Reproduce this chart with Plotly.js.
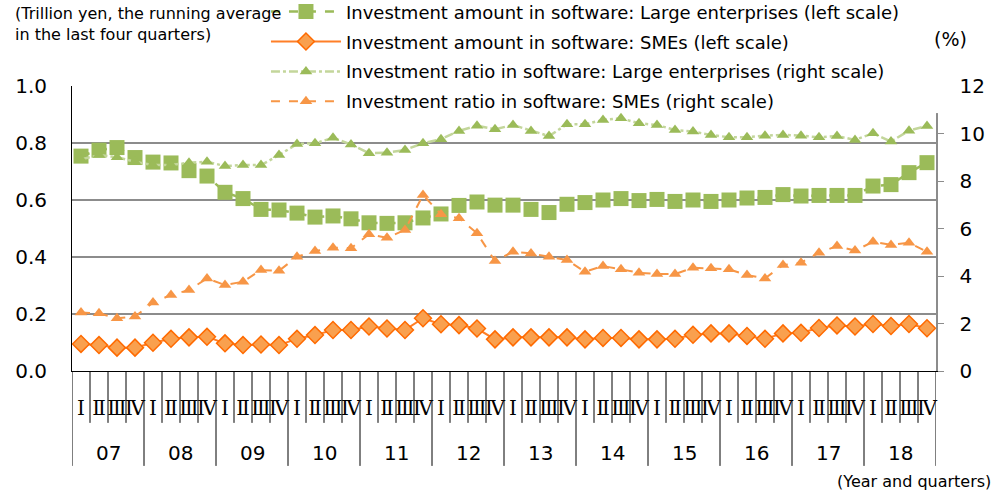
<!DOCTYPE html>
<html>
<head>
<meta charset="utf-8">
<script src="https://cdn.plot.ly/plotly-3.0.1.min.js"></script>
<style>html,body{margin:0;padding:0;background:#fff;}#chart{width:997px;height:492px;}</style>
</head>
<body>
<div id="chart"></div>
<script>
var years = ["07","08","09","10","11","12","13","14","15","16","17","18"];
var quarters = ["Ⅰ","Ⅱ","Ⅲ","Ⅳ"];

var largeAmount = [0.754,0.775,0.784,0.749,0.733,0.730,0.703,0.684,0.627,0.605,0.567,0.565,
  0.554,0.540,0.544,0.534,0.520,0.518,0.520,0.537,0.551,0.581,0.593,0.582,
  0.582,0.567,0.556,0.585,0.591,0.600,0.605,0.598,0.602,0.595,0.600,0.595,
  0.600,0.607,0.609,0.619,0.614,0.616,0.616,0.616,0.649,0.654,0.696,0.731];
var smeAmount = [0.095,0.091,0.082,0.082,0.099,0.113,0.118,0.120,0.097,0.091,0.093,0.091,
  0.113,0.126,0.144,0.144,0.156,0.149,0.144,0.185,0.164,0.161,0.149,0.111,
  0.118,0.118,0.118,0.118,0.111,0.116,0.116,0.111,0.111,0.113,0.127,0.132,
  0.132,0.123,0.113,0.132,0.134,0.151,0.160,0.156,0.165,0.158,0.165,0.150];
var largeRatio = [8.91,9.09,9.00,8.81,8.67,8.67,8.77,8.81,8.63,8.67,8.67,9.09,
  9.56,9.59,9.82,9.54,9.17,9.19,9.31,9.59,9.76,10.11,10.33,10.18,
  10.36,10.11,9.89,10.39,10.39,10.57,10.64,10.43,10.36,10.15,10.08,9.94,
  9.84,9.84,9.91,9.94,9.91,9.84,9.89,9.73,10.01,9.66,10.12,10.32];
var smeRatio = [2.46,2.43,2.22,2.29,2.88,3.20,3.41,3.90,3.62,3.76,4.25,4.22,
  4.81,5.05,5.19,5.17,5.76,5.61,5.94,7.41,6.60,6.43,5.80,4.63,
  5.02,4.95,4.81,4.67,4.18,4.42,4.28,4.14,4.08,4.08,4.35,4.33,
  4.28,4.04,3.90,4.46,4.56,4.98,5.26,5.07,5.44,5.31,5.40,5.02];

var names = [
  "Investment amount in software: Large enterprises (left scale)",
  "Investment amount in software: SMEs (left scale)",
  "Investment ratio in software: Large enterprises (right scale)",
  "Investment ratio in software: SMEs (right scale)"
];

// category keys and labels built from years and quarters
var xKeys = [], xText = [];
years.forEach(function(y){ quarters.forEach(function(q){ xKeys.push(y + "-" + q); xText.push(q); }); });

var FONT = "DejaVu Sans, Verdana, sans-serif";

var traces = [
  {x: xKeys, y: largeAmount, name: names[0], legendgroup: "a", type: "scatter", mode: "lines+markers", yaxis: "y",
   line: {color: "#9BBB59", width: 2.5, dash: "dash"},
   marker: {symbol: "square", size: 15, color: "#9BBB59"}},
  {x: xKeys, y: smeAmount, name: names[1], legendgroup: "b", type: "scatter", mode: "lines+markers", yaxis: "y",
   line: {color: "#FF7F27", width: 2},
   marker: {symbol: "diamond", size: 13, color: "#F9A04E", line: {color: "#FF6A00", width: 1.5}}},
  {x: xKeys, y: largeRatio, name: names[2], legendgroup: "c", type: "scatter", mode: "lines+markers", yaxis: "y2",
   line: {color: "#C3D69B", width: 2.5, dash: "dashdot"},
   marker: {symbol: "triangle-up", size: 11, color: "#9BBB59"}},
  {x: xKeys, y: smeRatio, name: names[3], legendgroup: "d", type: "scatter", mode: "lines+markers", yaxis: "y2",
   line: {color: "#F79646", width: 2, dash: "dash"},
   marker: {symbol: "triangle-up", size: 11, color: "#F79646"}}
];

// year labels, quarter separators and year dividers placed at category positions
var yearAnn = years.map(function(y, k){
  return {xref: "x", yref: "paper", x: k * quarters.length + (quarters.length - 1) / 2, y: -0.288,
          xanchor: "center", yanchor: "middle", showarrow: false, text: y,
          font: {family: FONT, size: 20, color: "#000"}};
});
var shapes = [];
for (var i = 0; i <= xKeys.length; i++) {
  var isYear = (i % quarters.length === 0);
  shapes.push({type: "line", xref: "x", yref: "paper", x0: i - 0.5, x1: i - 0.5,
               y0: 0, y1: isYear ? -0.333 : -0.182, line: {color: "#000", width: 1}});
}
// white strips hiding the top gridline and top of right axis behind the legend area
shapes.push({type: "rect", xref: "paper", yref: "paper", x0: 0.1748, x1: 0.999, y0: 0.985, y1: 1.015,
             layer: "between", fillcolor: "#fff", line: {width: 0}});
shapes.push({type: "rect", xref: "paper", yref: "paper", x0: 0.996, x1: 1.01, y0: 0.905, y1: 1.01,
             layer: "above", fillcolor: "#fff", line: {width: 0}});

var layout = {
  width: 997, height: 492,
  margin: {l: 72, r: 61, t: 86, b: 121, pad: 0, autoexpand: false},
  paper_bgcolor: "#fff", plot_bgcolor: "#fff",
  font: {family: FONT, size: 16, color: "#000"},
  showlegend: true,
  legend: {x: 0.2245, y: 1.325, xanchor: "left", yanchor: "top", bgcolor: "rgba(255,255,255,0)",
           font: {family: FONT, size: 18, color: "#000"}, tracegroupgap: 3.5, itemwidth: 70},
  xaxis: {type: "category", categoryorder: "array", categoryarray: xKeys,
          tickmode: "array", tickvals: xKeys, ticktext: xText,
          showline: true, linecolor: "#000", linewidth: 1,
          ticks: "", tickangle: 0, ticklabelstandoff: 19,
          tickfont: {family: "DejaVu Serif, serif", size: 20, color: "#000"},
          showgrid: false, range: [-0.5, 47.5]},
  yaxis: {range: [0, 1], dtick: 0.2, tickformat: ".1f", showgrid: true, gridcolor: "#8c8c8c", gridwidth: 1.5,
          showline: true, linecolor: "#000", linewidth: 1, ticks: "", ticklabelstandoff: 20,
          tickfont: {family: FONT, size: 20, color: "#000"}, zeroline: false},
  yaxis2: {range: [0, 12], dtick: 2, overlaying: "y", side: "right", showgrid: false, zeroline: false,
           showline: true, linecolor: "#8c8c8c", linewidth: 1.5, ticks: "outside", ticklen: 6, tickcolor: "#8c8c8c",
           ticklabelstandoff: 12, tickfont: {family: FONT, size: 20, color: "#000"}},
  shapes: shapes,
  annotations: [
    {xref: "paper", yref: "paper", x: -0.068, y: 1.293, xanchor: "left", yanchor: "top", showarrow: false, align: "left",
     text: "(Trillion yen, the running average<br>in the last four quarters)", font: {family: FONT, size: 16, color: "#000"}},
    {xref: "paper", yref: "paper", x: 0.9955, y: 1.165, xanchor: "left", yanchor: "middle", showarrow: false,
     text: "(%)", font: {family: FONT, size: 19, color: "#000"}},
    {xref: "paper", yref: "paper", x: 1.066, y: -0.389, xanchor: "right", yanchor: "middle", showarrow: false,
     text: "(Year and quarters)", font: {family: FONT, size: 16, color: "#000"}}
  ].concat(yearAnn)
};

Plotly.newPlot("chart", traces, layout, {displayModeBar: false, staticPlot: true});
</script>
</body>
</html>
